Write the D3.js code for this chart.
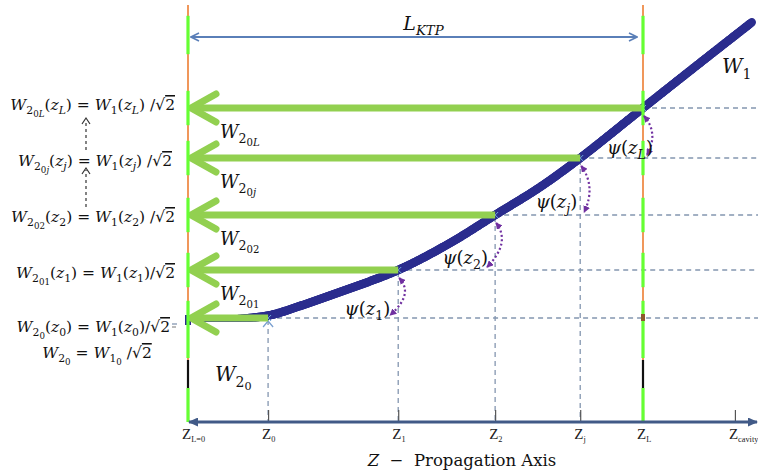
<!DOCTYPE html>
<html><head><meta charset="utf-8">
<script src="https://cdn.jsdelivr.net/npm/d3@7"></script>
<style>body{margin:0;background:#fff} svg{display:block} text{white-space:pre}</style>
</head><body><svg id="c" width="758" height="475"></svg>
<script>
// ---------------- data ----------------
const tickZ    = [0, 1.76, 4.62, 6.75, 8.62, 10, 12.02];
const tickSub  = ["L=0", "0", "1", "2", "j", "L", "cavity"];
const sampleZ  = [1.76, 4.62, 6.75, 8.62, 10];          // z0, z1, z2, zj, zL
const sampleW1 = [26, 38, 51.75, 66, 78.5];             // W1 at those z
const sampleSub = ["0", "1", "2", "j", "L"];
const w2Sub    = ["0", "01", "02", "0j", "0L"];
const curveZ   = [0, 0.92, 1.76, 2.46, 3.34, 4.62, 5.76, 6.75, 7.74, 8.62, 10, 11.25, 12.4];
const curveW1  = [25.5, 25.8, 26.6, 29, 32.5, 38, 44.75, 51.75, 58.75, 66, 78.5, 89.75, 100];
const L_KTP = 10;

// ---------------- layout ----------------
const W = 758, H = 475;
const SERIF = "'DejaVu Serif', serif";
const TIMES = "'Liberation Serif', serif";
const C = {curve:"#2b2d8e", arrow:"#92d050", lime:"#66ff33", orange:"#ed7d31",
           dash:"#8496b0", axis:"#415a87", ktp:"#5a7fb8", psi:"#7030a0", text:"#111"};

const svg = d3.select("#c");
const x = d3.scaleLinear().domain([0, L_KTP]).range([188, 643]);
const y = d3.scaleLinear().domain([0, 100]).range([422, 22]);
const X0 = x(0), XL = x(L_KTP), Y0 = y(0);

const defs = svg.append("defs");
function mk(id, color, d, w, h, rx, filled) {
  defs.append("marker").attr("id", id).attr("viewBox", `0 0 ${w} ${h}`)
    .attr("refX", rx).attr("refY", h / 2).attr("markerWidth", w).attr("markerHeight", h)
    .attr("markerUnits", "userSpaceOnUse").attr("orient", "auto-start-reverse")
    .append("path").attr("d", d)
    .attr("fill", filled ? color : "none").attr("stroke", filled ? "none" : color)
    .attr("stroke-width", 1.6);
}
mk("axA", C.axis, "M0,0 L10,4.5 L0,9 Z", 10, 9, 9, true);
mk("ktpA", C.ktp, "M1,1 L9,5 L1,9", 10, 10, 9, false);
mk("psiA", C.psi, "M0,0 L7,3.5 L0,7 Z", 7, 7, 6, true);

// math text helper: parts = [text, level, style]
function math(g, px, py, parts, size, anchor) {
  const t = g.append("text").attr("x", px).attr("y", py).attr("font-size", size)
    .attr("font-family", SERIF).attr("fill", C.text).attr("text-anchor", anchor || "start");
  const sc = [1, 0.7, 0.56], off = [0, 0.28, 0.46];
  let cur = 0;
  parts.forEach(([s, l, st]) => {
    const ts = t.append("tspan").text(s).attr("font-size", size * sc[l])
      .attr("dy", ((off[l] - cur) * size).toFixed(2));
    cur = off[l];
    if (st && st.includes("i")) ts.attr("font-style", "italic");
    if (st && st.includes("o")) ts.attr("text-decoration", "overline");
  });
  return t;
}
const isL = c => /[a-zA-Z]/.test(c) ? "i" : "";
function subChars(str, lvl) { return str.split("").map(c => [c, lvl, isL(c)]); }
function w2(sub) { return [["W", 0, "i"], ["2", 1], ...subChars(sub, 2)]; }

// ---------------- dashed guide lines ----------------
const gd = svg.append("g").attr("stroke", C.dash).attr("stroke-width", 1.3)
  .attr("stroke-dasharray", "5,4").attr("fill", "none");
sampleZ.forEach((z, i) => {
  gd.append("line").attr("x1", x(z)).attr("x2", W).attr("y1", y(sampleW1[i])).attr("y2", y(sampleW1[i]));
  if (i < 4) gd.append("line").attr("x1", x(z)).attr("x2", x(z)).attr("y1", y(sampleW1[i]) + 2).attr("y2", Y0);
});
gd.append("line").attr("x1", X0 - 16).attr("x2", X0 - 9).attr("y1", y(sampleW1[0]) + 6).attr("y2", y(sampleW1[0]) + 6);
// up arrow at z0 vertical
svg.append("path").attr("d", `M${x(sampleZ[0]) - 5},${y(sampleW1[0]) + 9} L${x(sampleZ[0])},${y(sampleW1[0]) + 3} L${x(sampleZ[0]) + 5},${y(sampleW1[0]) + 9}`)
  .attr("fill", "none").attr("stroke", "#7aa0d0").attr("stroke-width", 1.3);

// ---------------- axis ticks ----------------
const ax = svg.append("g").attr("transform", `translate(0,${Y0})`)
  .call(d3.axisTop(x).tickValues(tickZ).tickSize(12).tickFormat(""));
ax.select(".domain").remove();
ax.selectAll(".tick line").attr("stroke", "#555").attr("stroke-width", 1.2);

// ---------------- W1 curve (tapered) ----------------
const pts = curveZ.map((z, i) => [x(z), y(curveW1[i])]);
const lineGen = d3.line().curve(d3.curveCatmullRom.alpha(0.5));
const hidden = svg.append("path").attr("d", lineGen(pts)).attr("fill", "none").attr("stroke", "none");
const node = hidden.node(), total = node.getTotalLength();
const gc = svg.append("g").attr("stroke", C.curve).attr("stroke-linecap", "round");
let prev = node.getPointAtLength(0);
for (let l = 1.5; l <= total; l += 1.5) {
  const p = node.getPointAtLength(l);
  const t = Math.max(0, Math.min(1, (p.x - X0) / 70));
  gc.append("line").attr("x1", prev.x).attr("y1", prev.y).attr("x2", p.x).attr("y2", p.y)
    .attr("stroke-width", 3 + 5.5 * t);
  prev = p;
}
svg.append("rect").attr("x", X0 - 3).attr("y", y(curveW1[0]) - 5).attr("width", 6).attr("height", 10).attr("fill", C.curve);

// intersection markers
sampleZ.forEach((z, i) => {
  const cx = x(z), cy = y(sampleW1[i]);
  svg.append("path").attr("d", `M${cx - 3},${cy - 3} L${cx + 3},${cy + 3} M${cx - 3},${cy + 3} L${cx + 3},${cy - 3}`)
    .attr("stroke", "#6fa8dc").attr("stroke-width", 1);
});

// ---------------- green arrows ----------------
const ga = svg.append("g").attr("stroke", C.arrow).attr("stroke-width", 7)
  .attr("stroke-linecap", "round").attr("stroke-linejoin", "round").attr("fill", "none");
sampleZ.forEach((z, i) => {
  const yy = y(sampleW1[i]), tip = X0 + 3;
  ga.append("line").attr("x1", x(z)).attr("x2", tip + 2).attr("y1", yy).attr("y2", yy).attr("stroke-linecap", "butt");
  ga.append("path").attr("d", `M${tip + 25},${yy - 14} L${tip},${yy} L${tip + 25},${yy + 14}`);
});

// ---------------- boundary lines (crystal faces) ----------------
function face(xx) {
  const g = svg.append("g");
  g.append("line").attr("x1", xx).attr("x2", xx).attr("y1", y(104.25)).attr("y2", Y0)
    .attr("stroke", C.orange).attr("stroke-width", 1.6);
  const half = 4.3;
  const segs = [[96.25 - half, 96.25 + half + 1]];
  sampleW1.forEach((w, i) => segs.push(i === 0 ? [16, w + half] : [w - half, w + half]));
  segs.push([0, 8.5]);
  segs.forEach(([a, b]) => g.append("line").attr("x1", xx).attr("x2", xx).attr("y1", y(b)).attr("y2", y(a))
    .attr("stroke", C.lime).attr("stroke-width", 3.2));
  g.append("line").attr("x1", xx).attr("x2", xx).attr("y1", y(15.5)).attr("y2", y(8.5))
    .attr("stroke", "#111").attr("stroke-width", 2.2);
}
face(X0); face(XL);
svg.append("rect").attr("x", XL - 2).attr("y", y(sampleW1[0]) - 4).attr("width", 4).attr("height", 7).attr("fill", "#8b5a2b");

// ---------------- psi arcs ----------------
const gp = svg.append("g").attr("fill", "none").attr("stroke", C.psi).attr("stroke-width", 2.2)
  .attr("stroke-dasharray", "2,2.4");
const psiDx = [-8, -7, -3, 10];
for (let i = 1; i < sampleZ.length; i++) {
  const xi = x(sampleZ[i]), yi = y(sampleW1[i]), yp = y(sampleW1[i - 1]);
  const sx = xi + 1, sy = yi + 8, ex = xi - 4 + (i > 2 ? 8 : -4), ey = yp - 3;
  const cx = xi + 16, cy = (yi + yp) / 2;
  gp.append("path").attr("d", `M${sx},${sy} Q${cx},${cy} ${ex},${ey}`)
    .attr("marker-start", "url(#psiA)").attr("marker-end", "url(#psiA)");
  math(svg, xi + psiDx[i - 1], (yi + yp) / 2 + 21,
    [["ψ", 0, "i"], ["(", 0], ["z", 0, "i"], [sampleSub[i], 1, isL(sampleSub[i])], [")", 0]], 18, "end");
}

// ---------------- L_KTP dimension ----------------
const yK = y(96.25);
svg.append("line").attr("x1", X0 + 3).attr("x2", XL - 6).attr("y1", yK).attr("y2", yK)
  .attr("stroke", C.ktp).attr("stroke-width", 1.8)
  .attr("marker-start", "url(#ktpA)").attr("marker-end", "url(#ktpA)");
math(svg, (X0 + XL) / 2 + 8, yK - 7, [["L", 0, "i"], ["KTP", 1, "i"]], 19, "middle");

// ---------------- main axis ----------------
svg.append("line").attr("x1", X0 + 1).attr("x2", W - 1).attr("y1", Y0).attr("y2", Y0)
  .attr("stroke", C.axis).attr("stroke-width", 3)
  .attr("marker-start", "url(#axA)").attr("marker-end", "url(#axA)");
tickZ.forEach((z, i) => {
  const t = svg.append("text").attr("x", x(z) - 6).attr("y", Y0 + 17).attr("font-family", TIMES)
    .attr("font-size", 15).attr("fill", "#222");
  t.append("tspan").text("Z");
  t.append("tspan").text(tickSub[i]).attr("font-size", 8.3).attr("dy", 3);
});
math(svg, 462, 466, [["Z", 0, "i"], ["  −  Propagation Axis", 0]], 16.5, "middle");

// ---------------- W labels ----------------
math(svg, 220, y(sampleW1[4]) + 30, w2(w2Sub[4]), 18);
math(svg, 220, y(sampleW1[3]) + 30, w2(w2Sub[3]), 18);
math(svg, 220, y(sampleW1[2]) + 30, w2(w2Sub[2]), 18);
math(svg, 220, y(sampleW1[1]) + 30, w2(w2Sub[1]), 18);
math(svg, 215, y(sampleW1[0]) + 63, w2(w2Sub[0]), 20);
math(svg, 722, 73, [["W", 0, "i"], ["1", 1]], 20);

// ---------------- left equations ----------------
function eqParts(s2, zs, sp) {
  return [...w2(s2), ["(", 0], ["z", 0, "i"], [zs, 1, isL(zs)], [") = ", 0], ["W", 0, "i"], ["1", 1],
    ["(", 0], ["z", 0, "i"], [zs, 1, isL(zs)], [sp ? ") /" : ")/", 0], ["√", 0], ["2", 0, "o"]];
}
const eqEnd = [170, 175, 175, 172, 175];
const eqDy  = [14, 8, 7, 8, 2];
for (let i = 4; i >= 0; i--) {
  math(svg, eqEnd[i], y(sampleW1[i]) + eqDy[i], eqParts(w2Sub[i], sampleSub[i], i >= 2), 15.5, "end");
}
svg.append("line").attr("x1", 172).attr("x2", 176).attr("y1", y(sampleW1[0]) + 9).attr("y2", y(sampleW1[0]) + 9)
  .attr("stroke", "#777").attr("stroke-width", 1);
math(svg, 97, y(sampleW1[0]) + 40, [...w2("0"), [" = ", 0], ["W", 0, "i"], ["1", 1], ["0", 2], [" /", 0], ["√", 0], ["2", 0, "o"]], 15.5, "middle");

// dotted up arrows between equations
[[4, 3], [3, 2]].forEach(([a, b]) => {
  const top = y(sampleW1[a]) + 10, bot = y(sampleW1[b]) - 8;
  svg.append("line").attr("x1", 86).attr("x2", 86).attr("y1", bot).attr("y2", top + 2)
    .attr("stroke", "#333").attr("stroke-width", 1.2).attr("stroke-dasharray", "3,3");
  svg.append("path").attr("d", `M82,${top + 6} L86,${top} L90,${top + 6}`).attr("fill", "none")
    .attr("stroke", "#333").attr("stroke-width", 1.2);
});
</script></body></html>
